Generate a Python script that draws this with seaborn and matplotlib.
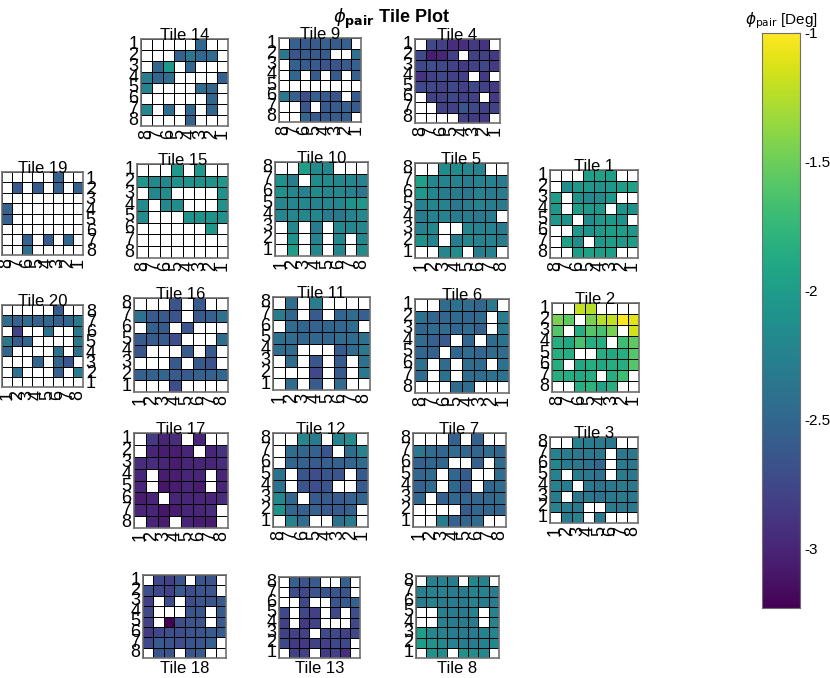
import numpy as np
import seaborn as sns
from matplotlib import pyplot as plt

n = np.nan

# ---- data: phi_pair per tile (8x8, NaN = no data) ----
tile_14 = [[n, n, n, n, n, -2.5, n, n],
           [n, n, n, -2.55, -2.35, -2.5, -2.45, n],
           [n, -2.5, -2.05, n, -2.5, n, n, n],
           [-2.3, -2.5, -2.45, n, n, n, n, -2.55],
           [-2.25, n, n, n, n, -2.45, -2.5, n],
           [n, n, n, n, n, n, -2.5, n],
           [-2.2, n, -2.45, n, -2.5, n, -2.5, n],
           [n, n, n, n, -2.55, n, n, n]]
tile_9 = [[n, -2.55, -2.6, -2.6, -2.55, -2.6, -2.55, n],
          [-2.35, -2.65, -2.6, -2.6, -2.6, n, n, -2.4],
          [n, -2.55, -2.6, -2.6, -2.65, -2.65, -2.6, -2.55],
          [n, -2.5, n, -2.6, n, -2.6, n, -2.55],
          [n, n, n, n, n, n, n, n],
          [-2.35, -2.55, -2.7, -2.55, -2.6, -2.65, n, -2.6],
          [n, n, -2.65, n, -2.6, -2.6, -2.55, -2.6],
          [n, n, -2.5, -2.6, -2.6, -2.6, -2.55, n]]
tile_4 = [[n, -2.75, -2.8, -2.95, -2.95, -2.85, -2.9, n],
          [-2.75, -3.05, -3.0, -2.8, n, -2.8, -2.8, -2.85],
          [-2.75, -2.7, -2.75, -2.8, -2.85, -2.8, -2.75, -2.85],
          [-2.9, -2.8, -2.75, -2.8, -2.8, n, -2.85, n],
          [-2.75, -2.75, -2.8, -2.75, -2.8, -2.75, -2.8, -2.85],
          [n, -2.8, -2.8, -2.75, -2.8, -2.8, n, -2.85],
          [n, n, -2.8, -2.8, -2.65, -2.75, -2.8, -2.8],
          [n, n, n, n, -2.8, -2.85, -2.85, n]]
tile_19 = [[n, n, n, n, n, -2.55, n, n],
           [n, -2.6, n, -2.6, n, -2.55, n, -2.55],
           [n, n, n, n, n, n, n, n],
           [-2.55, n, n, n, n, n, n, n],
           [-2.55, n, n, n, n, n, n, n],
           [n, n, n, n, n, n, n, n],
           [n, n, -2.55, n, -2.6, n, -2.5, n],
           [n, n, -2.4, n, n, n, n, n]]
tile_15 = [[n, n, n, -2.05, n, -2.05, n, n],
           [-2.05, -2.2, -2.2, -2.1, -2.1, -2.1, -2.1, -2.05],
           [n, -2.2, -2.15, n, n, n, n, -2.1],
           [-2.15, n, -2.2, -2.15, n, n, n, -2.1],
           [-2.15, n, n, n, -2.1, -2.1, -2.1, -2.1],
           [n, n, n, n, n, n, -2.05, n],
           [n, n, n, n, n, n, n, n],
           [n, n, n, n, n, n, n, n]]
tile_10 = [[n, n, -2.0, -2.15, -2.2, n, n, n],
           [-2.1, -2.3, n, -2.15, -2.15, -2.2, -2.2, -2.25],
           [-2.1, -2.2, -2.25, -2.15, -2.2, -2.2, -2.25, -2.35],
           [-2.2, -2.2, -2.2, -2.25, -2.2, -2.2, -2.1, -2.05],
           [-2.2, -2.2, -2.2, -2.2, -2.3, -2.35, -2.25, -2.2],
           [n, -2.2, n, -2.3, n, -2.2, -2.2, -2.2],
           [n, -2.1, n, -2.25, n, -2.2, n, -2.2],
           [n, -2.0, n, -2.2, n, -2.2, n, -2.15]]
tile_5 = [[n, n, -2.15, -2.15, -2.2, -2.25, n, n],
          [-1.95, -2.2, -2.25, -2.25, -2.3, -2.25, -2.25, -2.3],
          [-2.05, -2.2, -2.3, -2.3, -2.35, -2.25, -2.3, -2.3],
          [-2.25, -2.2, -2.25, -2.35, -2.3, -2.25, -2.3, -2.3],
          [-2.3, -2.25, -2.25, -2.3, -2.3, -2.35, -2.3, n],
          [-2.25, -2.2, n, n, -2.2, -2.25, -2.25, -2.3],
          [-2.1, -2.25, n, -2.3, -2.2, -2.25, -2.25, -2.3],
          [n, n, -2.2, -2.15, n, -2.3, -2.25, n]]
tile_1 = [[n, n, n, -2.0, -1.95, -2.0, n, n],
          [n, -2.15, -2.05, -2.05, -2.1, -2.05, -2.0, -1.95],
          [-2.0, n, -2.1, -2.2, -2.15, -2.05, n, n],
          [-2.05, n, -2.0, -2.05, -2.05, n, -2.1, -2.1],
          [-2.05, -2.1, n, -2.15, -2.05, -2.05, -2.1, n],
          [n, n, -2.05, -2.1, -2.05, -2.0, -2.0, -2.05],
          [n, -1.95, -2.15, n, -2.05, -2.0, -2.05, -2.0],
          [n, n, -2.0, -1.95, -2.0, -2.0, n, n]]
tile_20 = [[n, n, n, n, n, -2.6, n, n],
           [-2.45, -2.55, -2.45, -2.55, -2.5, -2.55, -2.5, -2.35],
           [n, -2.8, n, n, -2.4, n, n, -2.35],
           [-2.35, -2.6, -2.5, n, n, n, n, -2.35],
           [-2.5, n, n, n, n, -2.4, n, -2.4],
           [n, n, n, -2.5, n, -2.5, -2.65, n],
           [n, -2.4, n, n, n, -2.55, n, -2.3],
           [n, n, n, n, n, n, n, n]]
tile_16 = [[n, n, n, -2.65, n, -2.6, n, n],
           [-2.4, -2.6, -2.6, -2.65, n, -2.6, -2.55, -2.4],
           [n, -2.55, -2.6, n, -2.65, n, n, n],
           [-2.6, -2.6, -2.6, -2.7, n, n, n, -2.45],
           [-2.65, n, n, n, -2.6, n, -2.6, n],
           [n, n, n, -2.6, n, -2.6, -2.65, n],
           [-2.55, -2.55, -2.5, -2.6, -2.6, -2.55, -2.55, -2.5],
           [n, n, n, -2.7, n, n, n, n]]
tile_11 = [[n, -2.45, n, -2.3, n, n, n, n],
           [-2.3, -2.5, n, -2.6, n, -2.5, -2.45, -2.55],
           [n, -2.45, -2.5, -2.55, -2.5, -2.5, -2.45, n],
           [-2.4, -2.45, -2.5, -2.5, -2.5, -2.45, -2.45, -2.4],
           [-2.45, -2.45, n, n, n, -2.6, -2.45, -2.35],
           [n, -2.45, n, -2.65, n, -2.6, n, -2.4],
           [n, n, n, -2.75, n, -2.6, n, -2.35],
           [n, -2.45, n, -2.6, n, -2.45, n, n]]
tile_6 = [[n, n, -2.45, -2.4, -2.45, -2.5, -2.35, n],
          [-2.4, -2.5, -2.5, -2.45, -2.5, -2.45, n, -2.3],
          [-2.5, -2.45, -2.45, -2.5, -2.45, -2.55, n, -2.35],
          [-2.45, -2.55, -2.6, n, -2.5, n, -2.45, -2.4],
          [-2.5, -2.55, n, -2.5, -2.45, -2.5, -2.45, -2.45],
          [-2.4, n, -2.45, n, -2.45, -2.45, n, -2.4],
          [-2.45, n, -2.4, n, -2.45, -2.45, -2.4, -2.4],
          [n, n, n, -2.45, -2.45, n, n, n]]
tile_2 = [[n, n, -1.2, -1.25, n, n, n, n],
          [-1.45, -1.55, n, -1.45, -1.25, -1.2, -1.0, -1.1],
          [-1.6, n, -1.85, -1.6, -1.65, -1.45, n, -1.15],
          [-1.85, -1.9, -1.65, -1.85, -1.85, n, -1.7, -1.55],
          [-1.85, -1.85, n, n, -1.85, -1.9, -1.85, -1.6],
          [-1.85, n, -1.9, -1.85, -1.9, -1.85, -1.85, -1.6],
          [-1.85, -1.85, -1.9, -1.85, n, -1.85, -1.7, n],
          [n, n, -1.85, -1.8, -1.95, -1.85, n, n]]
tile_17 = [[n, -2.85, -3.0, -2.95, n, -3.0, n, n],
           [n, -3.0, -3.05, -3.05, -3.0, n, -3.0, -2.9],
           [-2.95, -2.95, -3.0, -3.05, -3.0, -3.0, -3.0, -2.95],
           [-3.0, n, -3.05, -3.05, -3.0, -3.0, n, -3.0],
           [-3.0, n, -3.1, -3.05, -3.0, -3.05, n, -3.0],
           [-3.05, -3.0, n, -3.0, -3.0, -3.0, -3.0, -2.95],
           [-3.0, -3.0, -3.1, -3.05, -3.0, -3.0, -2.95, n],
           [n, -3.0, -3.05, n, -3.0, -3.05, -3.05, n]]
tile_12 = [[n, n, -2.2, -2.3, n, -2.25, -2.15, n],
           [n, -2.45, -2.5, -2.55, -2.65, n, -2.45, -2.25],
           [n, -2.5, -2.55, -2.6, -2.55, -2.55, -2.5, -2.45],
           [-2.4, n, -2.65, -2.7, -2.65, -2.65, n, -2.6],
           [-2.4, n, -2.65, -2.7, -2.65, n, n, -2.6],
           [-2.2, -2.5, n, -2.6, -2.6, -2.6, -2.55, -2.5],
           [-2.1, -2.5, -2.55, -2.55, -2.6, -2.6, -2.55, n],
           [n, -2.25, -2.45, n, n, -2.4, -2.3, n]]
tile_7 = [[n, n, n, -2.55, n, -2.55, n, n],
          [-2.35, -2.45, -2.5, -2.45, -2.5, -2.5, -2.45, -2.5],
          [-2.55, -2.5, -2.5, n, n, -2.55, n, -2.45],
          [-2.5, -2.45, n, -2.5, -2.6, n, n, -2.45],
          [-2.55, -2.45, n, -2.5, -2.6, n, -2.5, -2.45],
          [-2.5, n, -2.55, -2.5, -2.5, -2.5, -2.5, -2.45],
          [n, n, n, n, -2.6, -2.5, -2.5, -2.5],
          [n, n, -2.3, -2.55, -2.5, -2.45, n, n]]
tile_3 = [[n, n, -2.25, -2.3, -2.3, -2.35, n, n],
          [-2.25, -2.3, -2.35, -2.35, -2.35, n, -2.35, -2.35],
          [-2.2, -2.3, -2.35, -2.4, -2.5, n, -2.3, -2.35],
          [-2.25, n, -2.3, -2.35, -2.4, n, -2.3, -2.35],
          [-2.25, -2.3, n, -2.35, -2.4, -2.35, -2.3, -2.35],
          [-2.3, n, -2.35, -2.35, -2.4, -2.35, -2.3, -2.35],
          [-2.25, -2.3, -2.35, n, n, -2.3, -2.35, -2.35],
          [n, -2.3, -2.25, n, -2.35, n, n, n]]
tile_18 = [[n, -2.75, -2.8, -2.65, n, -2.65, -2.65, n],
           [-2.7, -2.75, -2.8, -2.6, -2.7, -2.65, -2.65, n],
           [-2.8, n, -2.7, n, -2.7, -2.65, -2.65, -2.6],
           [-2.75, n, n, n, -2.65, -2.65, n, -2.6],
           [-2.8, n, -3.23, -2.7, -2.65, -2.65, n, -2.6],
           [-2.85, -2.75, -2.7, -2.7, -2.65, -2.65, -2.6, -2.6],
           [-2.75, -2.6, -2.65, -2.7, -2.65, -2.65, -2.55, n],
           [n, -2.65, -2.65, n, -2.65, -2.6, n, n]]
tile_13 = [[n, -2.55, -2.65, -2.6, n, n, -2.55, n],
           [n, -2.7, -2.75, -2.65, -2.65, -2.65, -2.65, n],
           [n, n, -2.75, n, n, -2.65, -2.6, -2.55],
           [-2.75, n, -2.75, -2.8, n, -2.75, n, -2.7],
           [-2.8, n, -2.85, -2.8, n, n, n, -2.75],
           [-2.8, -2.8, -2.8, n, -2.75, -2.75, -2.8, -2.75],
           [-2.75, -2.85, -2.85, -2.8, -2.8, -2.75, -2.75, n],
           [n, -2.8, -2.8, n, -2.85, -2.8, -2.95, n]]
tile_8 = [[n, -2.25, -2.25, -2.3, n, -2.2, -2.25, n],
          [-2.25, -2.25, -2.25, -2.3, -2.3, -2.25, -2.25, -2.3],
          [-2.3, -2.25, -2.3, -2.3, -2.3, -2.25, -2.3, -2.3],
          [n, n, -2.25, -2.3, -2.3, -2.25, n, -2.25],
          [n, n, -2.25, -2.3, -2.3, -2.3, n, -2.25],
          [-2.0, -2.2, -2.25, -2.3, -2.3, -2.3, -2.25, -2.25],
          [-2.0, -2.1, -2.2, -2.25, -2.3, -2.3, -2.25, -2.2],
          [n, -2.1, -2.15, n, -2.1, -2.15, -2.2, n]]

up = ["1", "2", "3", "4", "5", "6", "7", "8"]
down = up[::-1]

VMIN, VMAX = -3.23, -1.0
cbar_ticks = [-3, -2.5, -2, -1.5, -1]
cbar_labels = ["-3", "-2.5", "-2", "-1.5", "-1"]

# name, data, y labels, x labels, pixel box (left, top, right, bottom), ylabels on right, title below
tiles = [
    ("Tile 14", tile_14, up, down, (141, 39, 228, 126), False, False),
    ("Tile 9", tile_9, up, down, (279, 38, 361, 122), False, False),
    ("Tile 4", tile_4, up, down, (415, 39, 500, 123), False, False),
    ("Tile 19", tile_19, up, down, (2, 172, 83, 255), True, False),
    ("Tile 15", tile_15, up, down, (137, 164, 228, 258), False, False),
    ("Tile 10", tile_10, down, up, (275, 162, 368, 256), False, False),
    ("Tile 5", tile_5, down, up, (415, 163, 508, 258), False, False),
    ("Tile 1", tile_1, up, down, (550, 170, 638, 258), False, False),
    ("Tile 20", tile_20, down, up, (2, 305, 83, 387), True, False),
    ("Tile 16", tile_16, down, up, (134, 298, 228, 392), False, False),
    ("Tile 11", tile_11, down, up, (273, 297, 370, 390), False, False),
    ("Tile 6", tile_6, up, down, (415, 299, 509, 393), False, False),
    ("Tile 2", tile_2, up, down, (552, 303, 639, 392), False, False),
    ("Tile 17", tile_17, up, up, (134, 433, 228, 528), False, False),
    ("Tile 12", tile_12, down, down, (273, 433, 368, 527), False, False),
    ("Tile 7", tile_7, down, up, (413, 433, 506, 527), False, False),
    ("Tile 3", tile_3, down, up, (550, 437, 638, 523), False, False),
    ("Tile 18", tile_18, up, False, (143, 575, 226, 658), False, True),
    ("Tile 13", tile_13, down, False, (279, 577, 360, 658), False, True),
    ("Tile 8", tile_8, down, False, (416, 576, 499, 658), False, True),
]

W, H = 830, 678
sns.set_style("white")
plt.rcParams["font.family"] = ["Liberation Sans", "DejaVu Sans"]

fig = plt.figure(figsize=(W / 100, H / 100), dpi=100)


def px_box(l, t, r, b):
    return [l / W, 1 - b / H, (r - l) / W, (b - t) / H]


cax = fig.add_axes(px_box(762, 33, 800, 608))

for i, (name, vals, ylab, xlab, box, yright, tbelow) in enumerate(tiles):
    ax = fig.add_axes(px_box(*box))
    sns.heatmap(np.array(vals), ax=ax, cmap="viridis", vmin=VMIN, vmax=VMAX,
                linewidths=0.7, linecolor="black", square=False,
                xticklabels=xlab, yticklabels=ylab,
                cbar=(i == 0), cbar_ax=cax if i == 0 else None)
    for s in ax.spines.values():
        s.set_visible(True)
        s.set_color("#6f6f6f")
        s.set_linewidth(1.2)
    ax.tick_params(axis="both", length=0, labelsize=13, colors="black", pad=2)
    ax.set_yticklabels(ylab, rotation=0)
    if xlab:
        ax.set_xticklabels(xlab, rotation=90)
    if yright:
        ax.yaxis.tick_right()
        ax.tick_params(axis="y", rotation=0, length=0)
    if tbelow:
        ax.text(0.5, -0.04, name, transform=ax.transAxes, ha="center", va="top",
                fontsize=12, color="black")
    else:
        ax.set_title(name, fontsize=12, pad=-1, color="black")

cax.set_yticks(cbar_ticks)
cax.set_yticklabels(cbar_labels)
cax.tick_params(axis="y", direction="in", length=4, labelsize=11, right=True, colors="black")
for s in cax.spines.values():
    s.set_visible(True)
    s.set_color("#6f6f6f")
cax.set_title(r"$\phi_{\rm pair}$ [Deg]", fontsize=11, pad=6, color="black")

fig.text(0.472, 0.99, r"$\phi_{\mathbf{pair}}$ Tile Plot", ha="center", va="top",
         fontsize=13, fontweight="bold", color="black")

fig.savefig("out.png", dpi=100)
